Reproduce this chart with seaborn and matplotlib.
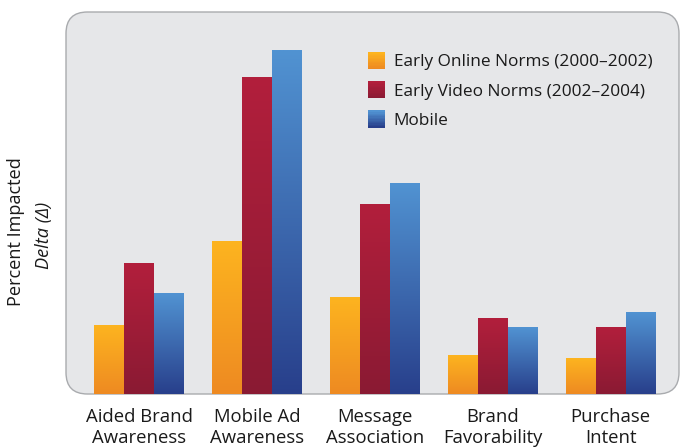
import numpy as np
import pandas as pd
import matplotlib
matplotlib.use("Agg")
import matplotlib.pyplot as plt
import seaborn as sns
from matplotlib.patches import FancyBboxPatch, Rectangle
from matplotlib.legend_handler import HandlerBase
from matplotlib.colors import LinearSegmentedColormap

categories = ["Aided Brand\nAwareness", "Mobile Ad\nAwareness", "Message\nAssociation",
              "Brand\nFavorability", "Purchase\nIntent"]
series = ["Early Online Norms (2000\u20132002)", "Early Video Norms (2002\u20132004)", "Mobile"]
early_online = [69, 153, 97, 39, 36]
early_video = [131, 317, 190, 76, 67]
mobile = [101, 344, 211, 67, 82]

grad = {
    series[0]: ("#fdb41f", "#ee8a22"),
    series[1]: ("#b21f3c", "#8a1a33"),
    series[2]: ("#5193d2", "#283f8b"),
}

df = pd.DataFrame({
    "category": categories * 3,
    "series": [series[0]] * 5 + [series[1]] * 5 + [series[2]] * 5,
    "value": early_online + early_video + mobile,
})

sns.set_style("white")
plt.rcParams["font.family"] = ["Open Sans", "DejaVu Sans"]

fig = plt.figure(figsize=(6.8, 4.47), dpi=100)
ax = fig.add_axes([66 / 680, 1 - 394 / 447, 613 / 680, 382 / 447])
ax.patch.set_visible(False)

palette = {s: grad[s][1] for s in series}
sns.barplot(data=df, x="category", y="value", hue="series", order=categories,
            hue_order=series, palette=palette, width=0.76, gap=0, ax=ax,
            legend=False, saturation=1, linewidth=0, zorder=2)

ax.set_xlim(-0.62, 4.58)
ax.set_ylim(0, 382)

# gradient fill for each bar
bars = [p for p in ax.patches]
for i, p in enumerate(bars):
    s = series[i // 5]
    top, bot = grad[s]
    cmap = LinearSegmentedColormap.from_list("g", [bot, top])
    x0, y0 = p.get_x(), p.get_y()
    w, h = p.get_width(), p.get_height()
    g = np.linspace(0, 1, 256).reshape(-1, 1)
    ax.imshow(g, cmap=cmap, origin="lower", aspect="auto",
              extent=(x0, x0 + w, y0, y0 + h), zorder=3, interpolation="bilinear")
ax.set_xlim(-0.62, 4.58)
ax.set_ylim(0, 382)

# rounded panel
panel = FancyBboxPatch((0, 0), 1, 1, boxstyle="round,pad=0,rounding_size=0.035",
                       mutation_aspect=613 / 382, transform=ax.transAxes,
                       facecolor="#e6e7e9", edgecolor="#a9abae", linewidth=1.0,
                       zorder=0, clip_on=False)
ax.add_patch(panel)

for sp in ax.spines.values():
    sp.set_visible(False)
ax.set_yticks([])
ax.set_xlabel("")
ax.set_ylabel("")
ax.tick_params(axis="x", length=0, pad=10, labelsize=13.3, colors="#1a1a1a")
for lbl in ax.get_xticklabels():
    lbl.set_linespacing(1.2)

# y label
fig.text(16 / 680, 1 - 232 / 447, "Percent Impacted", rotation=90, ha="center",
         va="center", fontsize=13.1, color="#1a1a1a")
fig.text(44 / 680, 1 - 235 / 447, "Delta (\u0394)", rotation=90, ha="center",
         va="center", fontsize=13.1, color="#1a1a1a", style="italic")


class GradHandler(HandlerBase):
    def __init__(self, top, bot):
        super().__init__()
        self.top, self.bot = top, bot

    def create_artists(self, legend, orig_handle, xdescent, ydescent, width,
                       height, fontsize, trans):
        cmap = LinearSegmentedColormap.from_list("g", [self.bot, self.top])
        n = 12
        side = height * 1.1
        arts = []
        for k in range(n):
            r = Rectangle((-xdescent, -ydescent + (height - side) / 2 + side * k / n),
                          side, side / n + 0.3, facecolor=cmap(k / (n - 1)),
                          edgecolor="none", transform=trans)
            arts.append(r)
        return arts


handles = [Rectangle((0, 0), 1, 1) for _ in series]
hmap = {h: GradHandler(*grad[s]) for h, s in zip(handles, series)}
leg = ax.legend(handles, series, handler_map=hmap, loc="upper left",
                bbox_to_anchor=((361 - 66) / 613, (394 - 46) / 382),
                frameon=False, fontsize=12.4, handlelength=1.0, handleheight=1.0,
                handletextpad=0.5, labelspacing=0.68, borderaxespad=0)
for t in leg.get_texts():
    t.set_color("#1a1a1a")

fig.savefig("out.png", dpi=100)
